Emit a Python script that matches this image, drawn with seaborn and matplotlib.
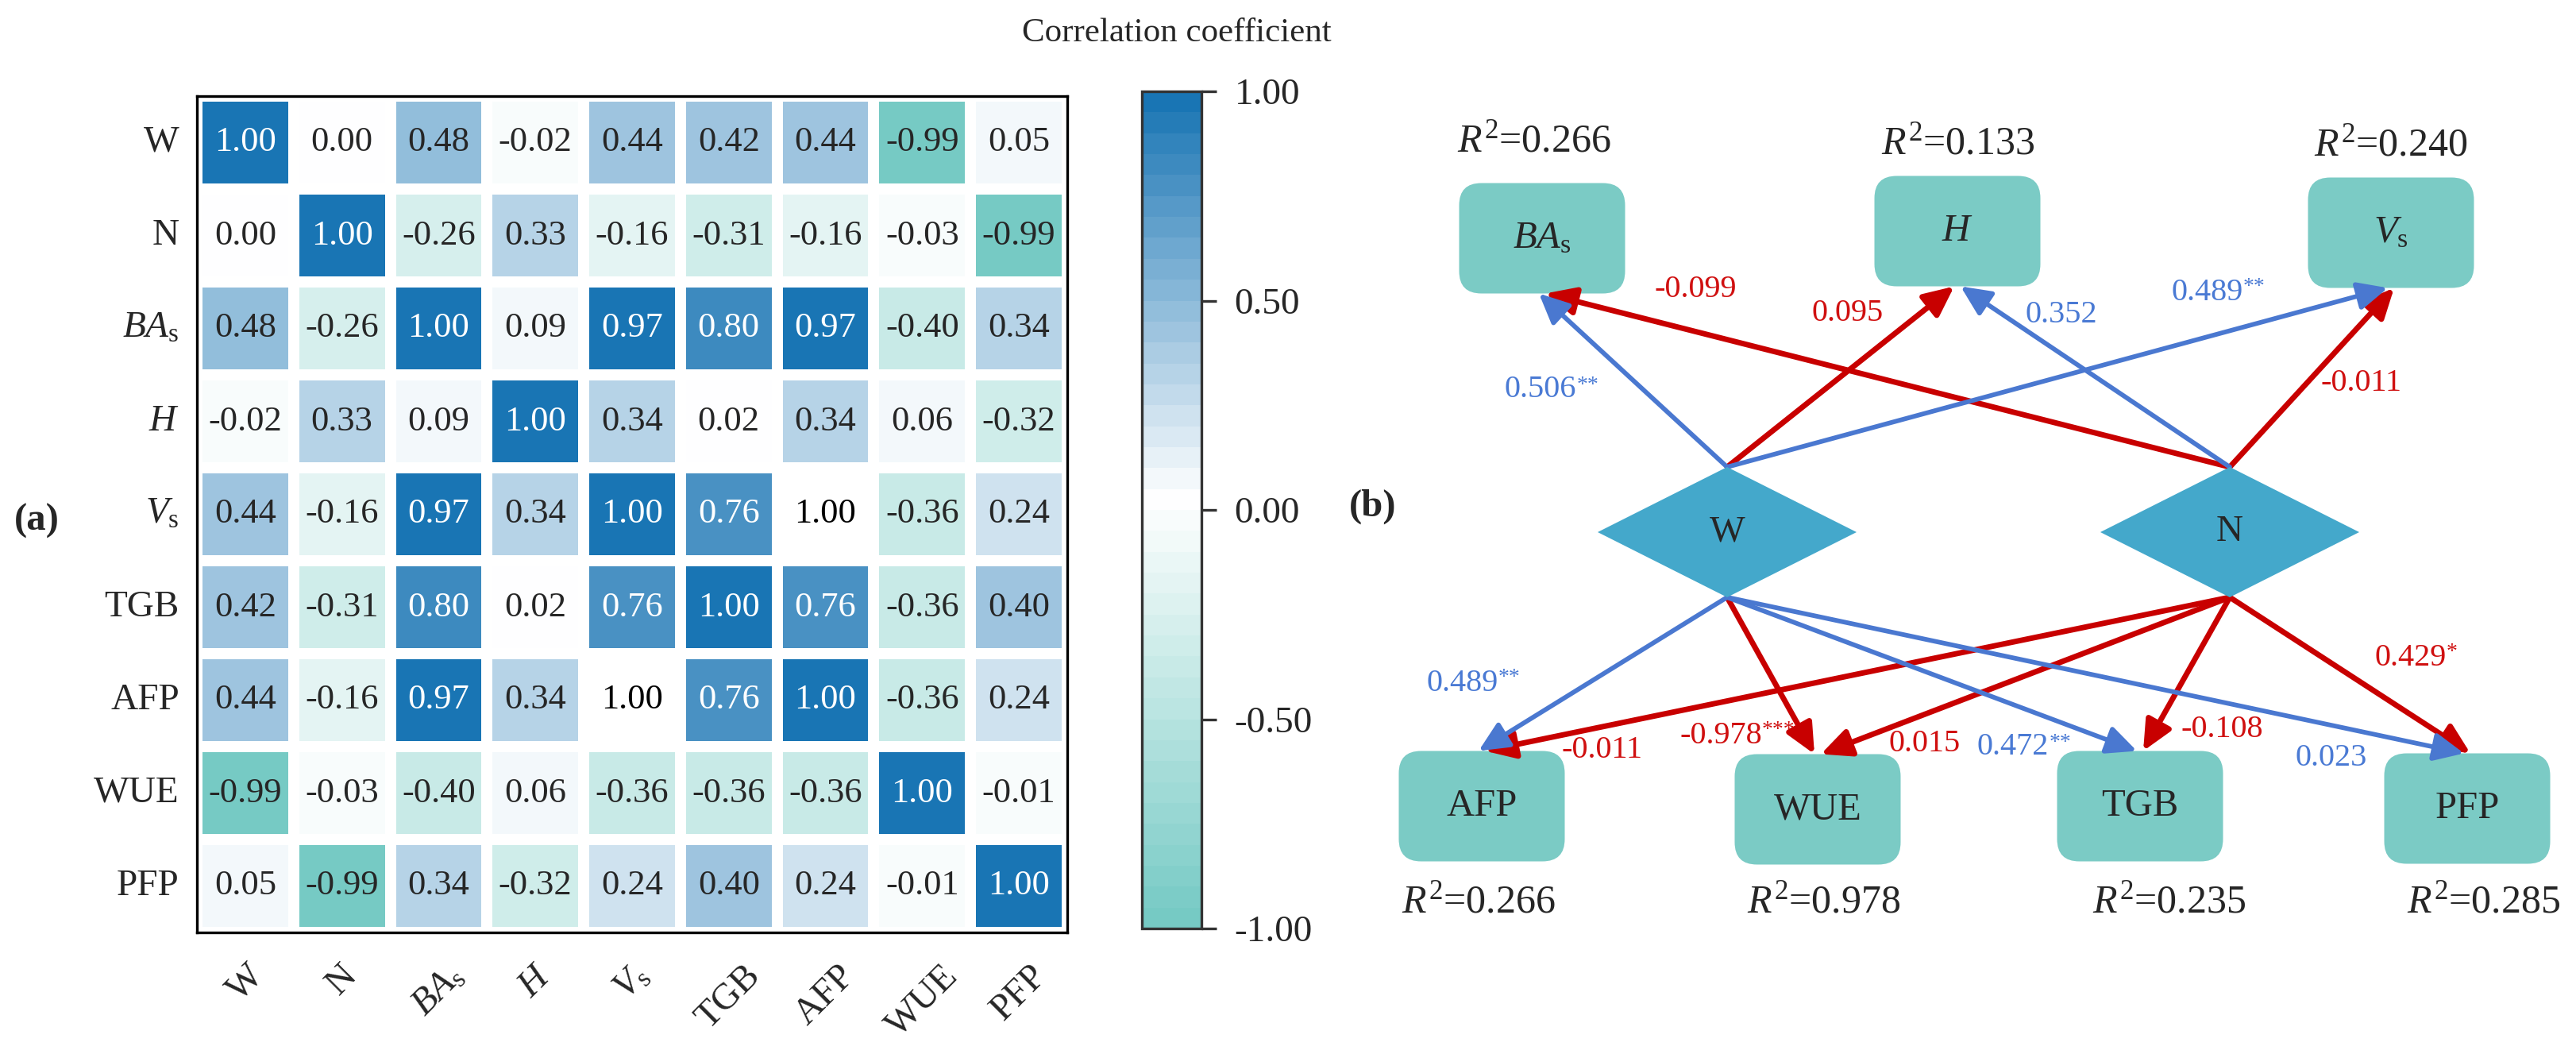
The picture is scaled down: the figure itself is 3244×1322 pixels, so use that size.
import numpy as np
import pandas as pd
import matplotlib
matplotlib.use('Agg')
import matplotlib.pyplot as plt
import seaborn as sns
from matplotlib.colors import LinearSegmentedColormap, ListedColormap
from matplotlib.patches import FancyBboxPatch, Polygon, FancyArrowPatch
from matplotlib.ticker import FormatStrFormatter

# ---- data: correlation matrix (panel a) ----
variables = ['W', 'N', 'BAs', 'H', 'Vs', 'TGB', 'AFP', 'WUE', 'PFP']
tick_labels = ['W', 'N', r'$BA_{\mathrm{s}}$', r'$H$', r'$V_{\mathrm{s}}$', 'TGB', 'AFP', 'WUE', 'PFP']
corr_W = [1.00, 0.00, 0.48, -0.02, 0.44, 0.42, 0.44, -0.99, 0.05]
corr_N = [0.00, 1.00, -0.26, 0.33, -0.16, -0.31, -0.16, -0.03, -0.99]
corr_BAs = [0.48, -0.26, 1.00, 0.09, 0.97, 0.80, 0.97, -0.40, 0.34]
corr_H = [-0.02, 0.33, 0.09, 1.00, 0.34, 0.02, 0.34, 0.06, -0.32]
corr_Vs = [0.44, -0.16, 0.97, 0.34, 1.00, 0.76, 1.00, -0.36, 0.24]
corr_TGB = [0.42, -0.31, 0.80, 0.02, 0.76, 1.00, 0.76, -0.36, 0.40]
corr_AFP = [0.44, -0.16, 0.97, 0.34, 1.00, 0.76, 1.00, -0.36, 0.24]
corr_WUE = [-0.99, -0.03, -0.40, 0.06, -0.36, -0.36, -0.36, 1.00, -0.01]
corr_PFP = [0.05, -0.99, 0.34, -0.32, 0.24, 0.40, 0.24, -0.01, 1.00]
# cells printed without colour in the original
uncoloured = [('Vs', 'AFP'), ('AFP', 'Vs')]

# ---- data: path model (panel b) ----
top_vars = ['BAs', 'H', 'Vs']
top_r2 = [0.266, 0.133, 0.240]
bottom_vars = ['AFP', 'WUE', 'TGB', 'PFP']
bottom_r2 = [0.266, 0.978, 0.235, 0.285]
path_from = ['W', 'W', 'W', 'N', 'N', 'N', 'W', 'W', 'W', 'W', 'N', 'N', 'N', 'N']
path_to = ['BAs', 'H', 'Vs', 'BAs', 'H', 'Vs', 'AFP', 'WUE', 'TGB', 'PFP', 'AFP', 'WUE', 'TGB', 'PFP']
path_coef = [0.506, 0.095, 0.489, -0.099, 0.352, -0.011, 0.489, -0.978, 0.472, 0.023, -0.011, 0.015, -0.108, 0.429]
path_sig = ['**', '', '**', '', '', '', '**', '***', '**', '', '', '', '', '*']
path_color = ['blue', 'red', 'blue', 'red', 'blue', 'red', 'blue', 'red', 'blue', 'blue', 'red', 'red', 'red', 'red']

node_text = {'W': 'W', 'N': 'N', 'BAs': r'$BA_{\mathrm{s}}$', 'H': r'$H$', 'Vs': r'$V_{\mathrm{s}}$',
             'TGB': 'TGB', 'AFP': 'AFP', 'WUE': 'WUE', 'PFP': 'PFP'}

# ---- layout (figure pixels, y downwards) ----
FIG_W, FIG_H, DPI = 3244, 1322, 200
NODE_XY = {'W': (2175, 670), 'N': (2808, 670),
           'BAs': (1942, 300), 'H': (2465, 291), 'Vs': (3011, 293),
           'AFP': (1866, 1015), 'WUE': (2289, 1019), 'TGB': (2695, 1015), 'PFP': (3107, 1018)}
R2_XY = {'BAs': (1932, 178), 'H': (2466, 181), 'Vs': (3011, 183),
         'AFP': (1862, 1136), 'WUE': (2297, 1136), 'TGB': (2732, 1136), 'PFP': (3128, 1136)}
LABEL_XY = [(1940, 491), (2327, 395), (2780, 368), (2135, 364), (2596, 397), (2974, 482),
            (1842, 860), (2167, 926), (2535, 941), (2936, 954), (2017, 944), (2424, 937),
            (2798, 918), (3036, 828)]
BOX_W, BOX_H = 209, 139
DIA_W, DIA_H = 163, 82
COLORS = {'red': '#C80000', 'blue': '#4A78D0'}
TEXT_COLORS = {'red': '#D01010', 'blue': '#4A7AD4'}
BOX_COLOR = '#7BCBC5'
DIA_COLOR = '#44A8CB'


def fx(px):
    return px / FIG_W


def fy(py):
    return 1 - py / FIG_H


def make_cmap(n=40):
    cont = LinearSegmentedColormap.from_list('corr', ['#76CAC4', '#FFFFFF', '#0E6EB0'])
    # each band takes the colour of its lower edge, so 0..0.05 stays white
    return ListedColormap([cont(i / n) for i in range(n)])


def draw_heatmap(fig):
    df = pd.DataFrame([corr_W, corr_N, corr_BAs, corr_H, corr_Vs, corr_TGB, corr_AFP, corr_WUE, corr_PFP],
                      index=variables, columns=variables)
    mask = np.zeros(df.shape, dtype=bool)
    for r, c in uncoloured:
        mask[variables.index(r), variables.index(c)] = True
    cmap = make_cmap()

    ax = fig.add_axes([fx(248), fy(1174), fx(1344) - fx(248), fy(121) - fy(1174)])
    cax = fig.add_axes([fx(1438), fy(1169), fx(1513) - fx(1438), fy(115) - fy(1169)])
    sns.heatmap(df, ax=ax, cbar_ax=cax, cmap=cmap, vmin=-1, vmax=1, mask=mask,
                annot=True, fmt='.2f', annot_kws={'fontsize': 16},
                linewidths=5, linecolor='white', xticklabels=tick_labels, yticklabels=tick_labels)
    for r, c in uncoloured:
        i, j = variables.index(r), variables.index(c)
        ax.text(j + 0.5, i + 0.5, f'{df.iloc[i, j]:.2f}', ha='center', va='center', fontsize=16, color='black')
    for sp in ax.spines.values():
        sp.set_visible(True)
        sp.set_color('black')
        sp.set_linewidth(1.2)
    ax.tick_params(axis='both', length=0, labelsize=17)
    ax.tick_params(axis='x', pad=12)
    ax.tick_params(axis='y', pad=8)
    plt.setp(ax.get_xticklabels(), rotation=45, ha='center')
    plt.setp(ax.get_yticklabels(), rotation=0)

    cbar = ax.collections[0].colorbar
    cbar.set_ticks([-1, -0.5, 0, 0.5, 1])
    cbar.ax.yaxis.set_major_formatter(FormatStrFormatter('%.2f'))
    cbar.ax.tick_params(length=7, width=1.2, labelsize=17, pad=8, color='#333333')
    cbar.outline.set_visible(True)
    cbar.outline.set_linewidth(1.2)
    cbar.outline.set_edgecolor('#333333')
    fig.text(fx(1482), fy(42), 'Correlation coefficient', ha='center', va='center', fontsize=15.5)


def draw_path_model(fig):
    ax = fig.add_axes([0, 0, 1, 1], zorder=-1)
    ax.set_xlim(0, FIG_W)
    ax.set_ylim(FIG_H, 0)
    ax.axis('off')
    ax.patch.set_alpha(0)

    for v, r2 in zip(top_vars + bottom_vars, top_r2 + bottom_r2):
        x, y = NODE_XY[v]
        ax.add_patch(FancyBboxPatch((x - BOX_W / 2, y - BOX_H / 2), BOX_W, BOX_H,
                                    boxstyle='round,pad=0,rounding_size=28',
                                    facecolor=BOX_COLOR, edgecolor='none', zorder=1))
        ax.text(x, y, node_text[v], ha='center', va='center', fontsize=17.5, zorder=4)
        rx, ry = R2_XY[v]
        ax.text(rx, ry, r'$R^{2}$=' + f'{r2:.3f}', ha='center', va='center', fontsize=18, zorder=4)

    for v in ['W', 'N']:
        x, y = NODE_XY[v]
        ax.add_patch(Polygon([(x, y - DIA_H), (x + DIA_W, y), (x, y + DIA_H), (x - DIA_W, y)],
                             closed=True, facecolor=DIA_COLOR, edgecolor='none', zorder=3))
        ax.text(x, y, node_text[v], ha='center', va='center', fontsize=17, zorder=4)

    for src, dst, coef, sig, col, (lx, ly) in zip(path_from, path_to, path_coef, path_sig, path_color, LABEL_XY):
        sx, sy = NODE_XY[src]
        tx, ty = NODE_XY[dst]
        off = -4 if src == 'W' else 4
        if dst in top_vars:
            start = (sx, sy - DIA_H)
            end = (tx + off, ty + BOX_H / 2)
        else:
            start = (sx, sy + DIA_H)
            end = (tx + off, ty - BOX_H / 2)
        lw = 2.5 if col == 'red' else 2.1
        arr = FancyArrowPatch(start, end, arrowstyle='-|>,head_length=0.6,head_width=0.28',
                              mutation_scale=19, color=COLORS[col], lw=lw,
                              shrinkA=0, shrinkB=0, zorder=2 if col == 'red' else 2.1)
        ax.add_patch(arr)
        t = ax.text(lx, ly, f'{coef:.3f}', ha='center', va='center', fontsize=14.5,
                    color=TEXT_COLORS[col], zorder=4)
        if sig:
            ax.annotate(sig, xy=(1.0, 1.0), xycoords=t, ha='left', va='top', fontsize=10,
                        color=TEXT_COLORS[col], zorder=4)


def main():
    sns.set_style('white')
    plt.rcParams['font.family'] = ['Liberation Serif', 'DejaVu Serif']
    plt.rcParams['mathtext.fontset'] = 'custom'
    plt.rcParams['mathtext.rm'] = 'Liberation Serif'
    plt.rcParams['mathtext.it'] = 'Liberation Serif:italic'
    plt.rcParams['mathtext.bf'] = 'Liberation Serif:bold'
    plt.rcParams['axes.unicode_minus'] = False

    fig = plt.figure(figsize=(FIG_W / DPI, FIG_H / DPI), dpi=DPI)
    draw_path_model(fig)
    draw_heatmap(fig)
    fig.text(fx(46), fy(656), '(a)', ha='center', va='center', fontsize=17.5, fontweight='bold')
    fig.text(fx(1729), fy(638), '(b)', ha='center', va='center', fontsize=17.5, fontweight='bold')
    fig.savefig('out.png', dpi=DPI, facecolor='white')
    plt.close(fig)


if __name__ == '__main__':
    main()
